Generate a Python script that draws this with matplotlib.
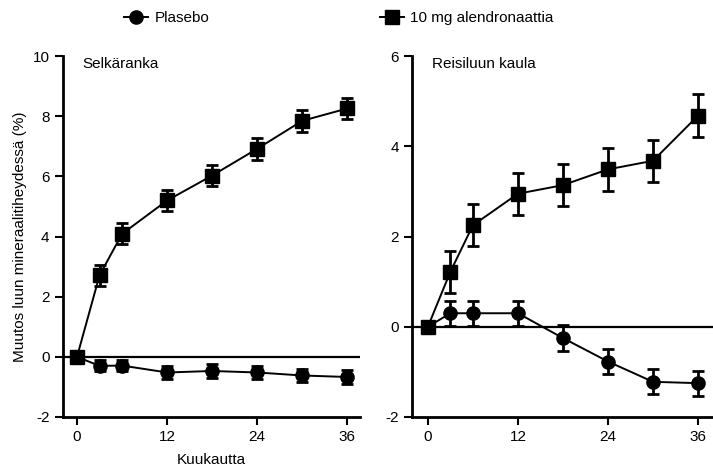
import numpy as np
import matplotlib.pyplot as plt
from matplotlib.lines import Line2D

plt.rcParams['font.family'] = ['Liberation Sans', 'DejaVu Sans']
plt.rcParams['axes.unicode_minus'] = False

months = [0, 3, 6, 12, 18, 24, 30, 36]

# Selkäranka
spine_alen = [0, 2.71, 4.09, 5.2, 6.03, 6.92, 7.85, 8.26]
spine_alen_err = [0, 0.35, 0.35, 0.35, 0.36, 0.36, 0.36, 0.36]
spine_plac = [0, -0.3, -0.29, -0.52, -0.47, -0.52, -0.62, -0.67]
spine_plac_err = [0, 0.18, 0.18, 0.22, 0.22, 0.22, 0.22, 0.22]

# Reisiluun kaula
hip_alen = [0, 1.22, 2.25, 2.95, 3.14, 3.49, 3.68, 4.68]
hip_alen_err = [0, 0.47, 0.47, 0.47, 0.47, 0.47, 0.47, 0.47]
hip_plac = [0, 0.3, 0.3, 0.3, -0.25, -0.77, -1.22, -1.25]
hip_plac_err = [0, 0.28, 0.28, 0.28, 0.28, 0.28, 0.28, 0.28]

fig = plt.figure(figsize=(7.13, 4.68), dpi=100)
ax1 = fig.add_axes([0.088, 0.109, 0.417, 0.771])
ax2 = fig.add_axes([0.578, 0.109, 0.422, 0.771])


def panel(ax, alen, alen_err, plac, plac_err, ylim, yticks, title, xl):
    ax.axhline(0, color='black', lw=1.6, zorder=1)
    ax.errorbar(months, plac, yerr=plac_err, color='black', lw=1.4,
                marker='o', ms=9.5, elinewidth=2, capsize=4, capthick=2, zorder=3)
    ax.errorbar(months, alen, yerr=alen_err, color='black', lw=1.4,
                marker='s', ms=9.5, elinewidth=2, capsize=4, capthick=2, zorder=4)
    ax.set_xlim(xl)
    ax.set_ylim(ylim)
    ax.set_yticks(yticks)
    ax.set_xticks([0, 12, 24, 36])
    for s in ['top', 'right']:
        ax.spines[s].set_visible(False)
    for s in ['left', 'bottom']:
        ax.spines[s].set_linewidth(2)
    ax.tick_params(width=1.5, length=6, labelsize=11)
    ax.text(0.067, 0.978, title, transform=ax.transAxes, fontsize=11,
            va='center', ha='left')


panel(ax1, spine_alen, spine_alen_err, spine_plac, spine_plac_err,
      (-2, 10), [-2, 0, 2, 4, 6, 8, 10], 'Selkäranka', (-1.9, 37.7))
panel(ax2, hip_alen, hip_alen_err, hip_plac, hip_plac_err,
      (-2, 6), [-2, 0, 2, 4, 6], 'Reisiluun kaula', (-2.1, 38))

ax1.set_ylabel('Muutos luun mineraalitiheydessä (%)', fontsize=11, labelpad=4)
ax1.set_xlabel('Kuukautta', fontsize=11, labelpad=6)

h1 = Line2D([], [], color='black', lw=1.4, marker='o', ms=9.5)
h2 = Line2D([], [], color='black', lw=1.4, marker='s', ms=9.5)
fig.legend([h1, h2], ['Plasebo', '10 mg alendronaattia'], loc='upper center',
           bbox_to_anchor=(0.475, 1.005), ncol=2, frameon=False, fontsize=11,
           columnspacing=11.15, handlelength=1.6, handletextpad=0.4)

fig.savefig('out.png', dpi=100)
